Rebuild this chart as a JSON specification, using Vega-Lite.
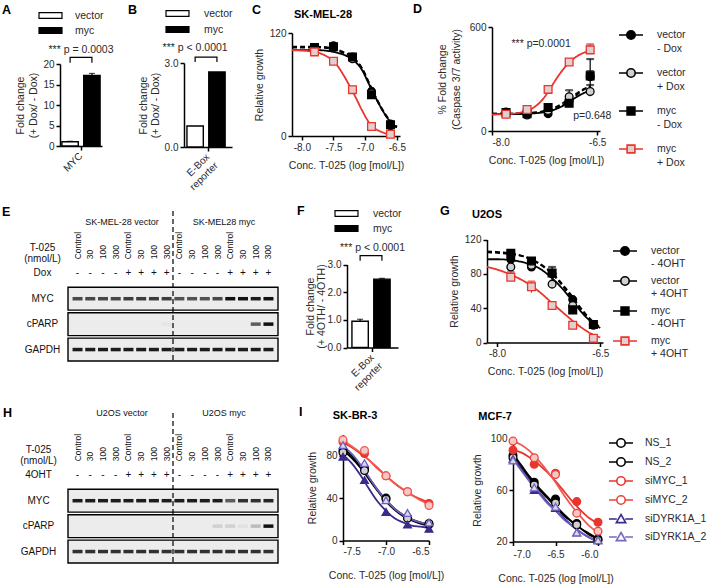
{
"$schema":"https://vega.github.io/schema/vega-lite/v6.json",
"padding":{"left":2,"top":3,"right":0,"bottom":0},
"config":{"font":"Liberation Sans","view":{"stroke":null},
"axis":{"grid":false,"domainColor":"#000","domainWidth":1.5,"tickColor":"#000","tickWidth":1.5,"tickSize":4,"labelFontSize":10,"labelColor":"#2a2a2a","titleFontSize":10.5,"titleFontWeight":"normal","titleColor":"#2a2a2a","labelPadding":2,"titleLineHeight":12},
"legend":{"labelFontSize":10.5,"labelColor":"#2a2a2a","padding":0},
"title":{"fontSize":12.5,"fontWeight":"bold","anchor":"start","frame":"group","offset":2,"color":"#000"}},
"datasets":{
"a_bar":[{"gene":"MYC","group":"vector","value":1.05,"hi":1.15},{"gene":"MYC","group":"myc","value":17.2,"hi":17.7}],
"a_br":[{"gene":"MYC","group":"vector","y":20.3,"k":1},{"gene":"MYC","group":"vector","y":21.6,"k":2},{"gene":"MYC","group":"myc","y":21.6,"k":3},{"gene":"MYC","group":"myc","y":20.3,"k":4}],
"a_p":[{"gene":"MYC","y":23.4,"label":"*** p = 0.0003"}],
"b_bar":[{"gene":"E-Box reporter","group":"vector","value":0.75},{"gene":"E-Box reporter","group":"myc","value":2.68}],
"b_br":[{"gene":"E-Box reporter","group":"vector","y":3.04,"k":1},{"gene":"E-Box reporter","group":"vector","y":3.21,"k":2},{"gene":"E-Box reporter","group":"myc","y":3.21,"k":3},{"gene":"E-Box reporter","group":"myc","y":3.04,"k":4}],
"b_p":[{"gene":"E-Box reporter","group":"vector","y":3.54,"label":"*** p < 0.0001"}],
"f_bar":[{"gene":"E-Box reporter","group":"vector","value":0.95,"hi":1.02},{"gene":"E-Box reporter","group":"myc","value":2.47,"hi":2.5}],
"f_br":[{"gene":"E-Box reporter","group":"vector","y":3.14,"k":1},{"gene":"E-Box reporter","group":"vector","y":3.32,"k":2},{"gene":"E-Box reporter","group":"myc","y":3.32,"k":3},{"gene":"E-Box reporter","group":"myc","y":3.14,"k":4}],
"f_p":[{"gene":"E-Box reporter","y":3.61,"label":"*** p < 0.0001"}],
"c_pts":[
{"series":"vector - Dox","x":-7.8,"y":101},{"series":"vector - Dox","x":-7.5,"y":105},{"series":"vector - Dox","x":-7.2,"y":92},{"series":"vector - Dox","x":-6.9,"y":52},{"series":"vector - Dox","x":-6.6,"y":14},
{"series":"vector + Dox","x":-7.8,"y":100},{"series":"vector + Dox","x":-7.5,"y":103},{"series":"vector + Dox","x":-7.2,"y":90},{"series":"vector + Dox","x":-6.9,"y":50},{"series":"vector + Dox","x":-6.6,"y":12},
{"series":"myc - Dox","x":-7.8,"y":103},{"series":"myc - Dox","x":-7.5,"y":104},{"series":"myc - Dox","x":-7.2,"y":92},{"series":"myc - Dox","x":-6.9,"y":48},{"series":"myc - Dox","x":-6.6,"y":13},
{"series":"myc + Dox","x":-7.8,"y":98},{"series":"myc + Dox","x":-7.5,"y":87},{"series":"myc + Dox","x":-7.2,"y":54},{"series":"myc + Dox","x":-6.9,"y":11},{"series":"myc + Dox","x":-6.6,"y":2}],
"c_crv":[
{"series":"vector - Dox","x":-8.155,"y":103},{"series":"vector - Dox","x":-8.0,"y":103},{"series":"vector - Dox","x":-7.75,"y":103},{"series":"vector - Dox","x":-7.5,"y":101},{"series":"vector - Dox","x":-7.35,"y":97},{"series":"vector - Dox","x":-7.2,"y":91},{"series":"vector - Dox","x":-7.05,"y":79},{"series":"vector - Dox","x":-6.95,"y":64},{"series":"vector - Dox","x":-6.85,"y":48},{"series":"vector - Dox","x":-6.75,"y":34},{"series":"vector - Dox","x":-6.65,"y":22},{"series":"vector - Dox","x":-6.55,"y":14},{"series":"vector - Dox","x":-6.5,"y":11},
{"series":"vector + Dox","x":-8.155,"y":100},{"series":"vector + Dox","x":-8.0,"y":100},{"series":"vector + Dox","x":-7.75,"y":100},{"series":"vector + Dox","x":-7.5,"y":98},{"series":"vector + Dox","x":-7.35,"y":95},{"series":"vector + Dox","x":-7.2,"y":89},{"series":"vector + Dox","x":-7.05,"y":77},{"series":"vector + Dox","x":-6.95,"y":62},{"series":"vector + Dox","x":-6.85,"y":47},{"series":"vector + Dox","x":-6.75,"y":33},{"series":"vector + Dox","x":-6.65,"y":21},{"series":"vector + Dox","x":-6.55,"y":13},{"series":"vector + Dox","x":-6.5,"y":10},
{"series":"myc - Dox","x":-8.155,"y":104},{"series":"myc - Dox","x":-8.0,"y":104},{"series":"myc - Dox","x":-7.75,"y":104},{"series":"myc - Dox","x":-7.5,"y":102},{"series":"myc - Dox","x":-7.35,"y":98},{"series":"myc - Dox","x":-7.2,"y":92},{"series":"myc - Dox","x":-7.05,"y":79},{"series":"myc - Dox","x":-6.95,"y":63},{"series":"myc - Dox","x":-6.85,"y":47},{"series":"myc - Dox","x":-6.75,"y":33},{"series":"myc - Dox","x":-6.65,"y":21},{"series":"myc - Dox","x":-6.55,"y":13},{"series":"myc - Dox","x":-6.5,"y":10},
{"series":"myc + Dox","x":-8.155,"y":100},{"series":"myc + Dox","x":-8.0,"y":99.5},{"series":"myc + Dox","x":-7.85,"y":98.5},{"series":"myc + Dox","x":-7.7,"y":96},{"series":"myc + Dox","x":-7.55,"y":90},{"series":"myc + Dox","x":-7.45,"y":83},{"series":"myc + Dox","x":-7.35,"y":72},{"series":"myc + Dox","x":-7.25,"y":59},{"series":"myc + Dox","x":-7.15,"y":45},{"series":"myc + Dox","x":-7.05,"y":30},{"series":"myc + Dox","x":-6.95,"y":17},{"series":"myc + Dox","x":-6.85,"y":9},{"series":"myc + Dox","x":-6.75,"y":5},{"series":"myc + Dox","x":-6.65,"y":2.5},{"series":"myc + Dox","x":-6.55,"y":1.5}],
"d_pts":[
{"series":"vector - Dox","x":-7.8,"y":110},{"series":"vector - Dox","x":-7.5,"y":98},{"series":"vector - Dox","x":-7.2,"y":100},{"series":"vector - Dox","x":-6.9,"y":175,"lo":160,"hi":190},{"series":"vector - Dox","x":-6.6,"y":313,"lo":260,"hi":415},
{"series":"vector + Dox","x":-7.8,"y":100},{"series":"vector + Dox","x":-7.5,"y":92},{"series":"vector + Dox","x":-7.2,"y":118},{"series":"vector + Dox","x":-6.9,"y":198,"lo":175,"hi":235},{"series":"vector + Dox","x":-6.6,"y":228,"lo":200,"hi":265},
{"series":"myc - Dox","x":-7.8,"y":106},{"series":"myc - Dox","x":-7.5,"y":100},{"series":"myc - Dox","x":-7.2,"y":135},{"series":"myc - Dox","x":-6.9,"y":160},{"series":"myc - Dox","x":-6.6,"y":318,"lo":300,"hi":345},
{"series":"myc + Dox","x":-7.8,"y":97},{"series":"myc + Dox","x":-7.5,"y":124},{"series":"myc + Dox","x":-7.2,"y":240},{"series":"myc + Dox","x":-6.9,"y":398},{"series":"myc + Dox","x":-6.6,"y":468,"lo":445,"hi":500}],
"d_crv":[
{"series":"vector - Dox","x":-8.0,"y":100},{"series":"vector - Dox","x":-7.8,"y":100},{"series":"vector - Dox","x":-7.6,"y":101},{"series":"vector - Dox","x":-7.4,"y":105},{"series":"vector - Dox","x":-7.3,"y":109},{"series":"vector - Dox","x":-7.2,"y":116},{"series":"vector - Dox","x":-7.1,"y":128},{"series":"vector - Dox","x":-7.0,"y":147},{"series":"vector - Dox","x":-6.9,"y":174},{"series":"vector - Dox","x":-6.8,"y":206},{"series":"vector - Dox","x":-6.7,"y":236},{"series":"vector - Dox","x":-6.6,"y":258},
{"series":"vector + Dox","x":-8.0,"y":97},{"series":"vector + Dox","x":-7.8,"y":97},{"series":"vector + Dox","x":-7.6,"y":98},{"series":"vector + Dox","x":-7.4,"y":102},{"series":"vector + Dox","x":-7.3,"y":106},{"series":"vector + Dox","x":-7.2,"y":113},{"series":"vector + Dox","x":-7.1,"y":125},{"series":"vector + Dox","x":-7.0,"y":143},{"series":"vector + Dox","x":-6.9,"y":168},{"series":"vector + Dox","x":-6.8,"y":195},{"series":"vector + Dox","x":-6.7,"y":217},{"series":"vector + Dox","x":-6.6,"y":233},
{"series":"myc - Dox","x":-8.0,"y":100},{"series":"myc - Dox","x":-7.8,"y":100},{"series":"myc - Dox","x":-7.6,"y":102},{"series":"myc - Dox","x":-7.4,"y":107},{"series":"myc - Dox","x":-7.3,"y":112},{"series":"myc - Dox","x":-7.2,"y":121},{"series":"myc - Dox","x":-7.1,"y":136},{"series":"myc - Dox","x":-7.0,"y":158},{"series":"myc - Dox","x":-6.9,"y":186},{"series":"myc - Dox","x":-6.8,"y":215},{"series":"myc - Dox","x":-6.7,"y":240},{"series":"myc - Dox","x":-6.6,"y":258},
{"series":"myc + Dox","x":-8.0,"y":95},{"series":"myc + Dox","x":-7.8,"y":97},{"series":"myc + Dox","x":-7.7,"y":100},{"series":"myc + Dox","x":-7.6,"y":106},{"series":"myc + Dox","x":-7.5,"y":117},{"series":"myc + Dox","x":-7.4,"y":137},{"series":"myc + Dox","x":-7.3,"y":172},{"series":"myc + Dox","x":-7.2,"y":225},{"series":"myc + Dox","x":-7.1,"y":290},{"series":"myc + Dox","x":-7.0,"y":348},{"series":"myc + Dox","x":-6.9,"y":395},{"series":"myc + Dox","x":-6.8,"y":428},{"series":"myc + Dox","x":-6.7,"y":450},{"series":"myc + Dox","x":-6.6,"y":463}],
"d_txt":[{"x":-7.3,"y":502,"t":"*** p=0.0001"},{"x":-6.57,"y":87,"t":"p=0.648"}],
"g_pts":[
{"series":"vector - 4OHT","x":-7.8,"y":97},{"series":"vector - 4OHT","x":-7.5,"y":88},{"series":"vector - 4OHT","x":-7.2,"y":80,"lo":72,"hi":88},{"series":"vector - 4OHT","x":-6.9,"y":50},{"series":"vector - 4OHT","x":-6.6,"y":21},
{"series":"vector + 4OHT","x":-7.8,"y":88},{"series":"vector + 4OHT","x":-7.5,"y":90},{"series":"vector + 4OHT","x":-7.2,"y":68},{"series":"vector + 4OHT","x":-6.9,"y":43},{"series":"vector + 4OHT","x":-6.6,"y":20},
{"series":"myc - 4OHT","x":-7.8,"y":104},{"series":"myc - 4OHT","x":-7.5,"y":95},{"series":"myc - 4OHT","x":-7.2,"y":81},{"series":"myc - 4OHT","x":-6.9,"y":38},{"series":"myc - 4OHT","x":-6.6,"y":21},
{"series":"myc + 4OHT","x":-7.8,"y":76,"lo":72,"hi":82},{"series":"myc + 4OHT","x":-7.5,"y":65,"lo":58,"hi":71},{"series":"myc + 4OHT","x":-7.2,"y":43},{"series":"myc + 4OHT","x":-6.9,"y":20},{"series":"myc + 4OHT","x":-6.6,"y":5}],
"g_crv":[
{"series":"vector - 4OHT","x":-8.146,"y":105},{"series":"vector - 4OHT","x":-8.0,"y":104.5},{"series":"vector - 4OHT","x":-7.8,"y":103},{"series":"vector - 4OHT","x":-7.6,"y":100},{"series":"vector - 4OHT","x":-7.4,"y":93},{"series":"vector - 4OHT","x":-7.2,"y":81},{"series":"vector - 4OHT","x":-7.0,"y":63},{"series":"vector - 4OHT","x":-6.9,"y":53},{"series":"vector - 4OHT","x":-6.8,"y":42},{"series":"vector - 4OHT","x":-6.7,"y":32},{"series":"vector - 4OHT","x":-6.6,"y":24},{"series":"vector - 4OHT","x":-6.5,"y":18},
{"series":"vector + 4OHT","x":-8.146,"y":97},{"series":"vector + 4OHT","x":-8.0,"y":97},{"series":"vector + 4OHT","x":-7.8,"y":96},{"series":"vector + 4OHT","x":-7.6,"y":93},{"series":"vector + 4OHT","x":-7.4,"y":87},{"series":"vector + 4OHT","x":-7.2,"y":75},{"series":"vector + 4OHT","x":-7.0,"y":58},{"series":"vector + 4OHT","x":-6.9,"y":48},{"series":"vector + 4OHT","x":-6.8,"y":38},{"series":"vector + 4OHT","x":-6.7,"y":29},{"series":"vector + 4OHT","x":-6.6,"y":22},{"series":"vector + 4OHT","x":-6.5,"y":17},
{"series":"myc - 4OHT","x":-8.146,"y":106},{"series":"myc - 4OHT","x":-8.0,"y":105.5},{"series":"myc - 4OHT","x":-7.8,"y":104},{"series":"myc - 4OHT","x":-7.6,"y":100},{"series":"myc - 4OHT","x":-7.4,"y":92},{"series":"myc - 4OHT","x":-7.2,"y":80},{"series":"myc - 4OHT","x":-7.0,"y":61},{"series":"myc - 4OHT","x":-6.9,"y":50},{"series":"myc - 4OHT","x":-6.8,"y":40},{"series":"myc - 4OHT","x":-6.7,"y":31},{"series":"myc - 4OHT","x":-6.6,"y":23},{"series":"myc - 4OHT","x":-6.5,"y":17},
{"series":"myc + 4OHT","x":-8.146,"y":88},{"series":"myc + 4OHT","x":-8.0,"y":85},{"series":"myc + 4OHT","x":-7.8,"y":79},{"series":"myc + 4OHT","x":-7.6,"y":71},{"series":"myc + 4OHT","x":-7.4,"y":60},{"series":"myc + 4OHT","x":-7.2,"y":46},{"series":"myc + 4OHT","x":-7.0,"y":32},{"series":"myc + 4OHT","x":-6.8,"y":19},{"series":"myc + 4OHT","x":-6.6,"y":9},{"series":"myc + 4OHT","x":-6.5,"y":6}],
"i1_pts":[
{"series":"NS_1","x":-7.5,"y":85},{"series":"NS_1","x":-7.25,"y":68},{"series":"NS_1","x":-7.0,"y":40},{"series":"NS_1","x":-6.75,"y":22},{"series":"NS_1","x":-6.5,"y":15},
{"series":"NS_2","x":-7.5,"y":83},{"series":"NS_2","x":-7.25,"y":66},{"series":"NS_2","x":-7.0,"y":39},{"series":"NS_2","x":-6.75,"y":21},{"series":"NS_2","x":-6.5,"y":16},
{"series":"siMYC_1","x":-7.5,"y":93},{"series":"siMYC_1","x":-7.25,"y":82},{"series":"siMYC_1","x":-7.0,"y":61},{"series":"siMYC_1","x":-6.75,"y":46},{"series":"siMYC_1","x":-6.5,"y":35},
{"series":"siMYC_2","x":-7.5,"y":95},{"series":"siMYC_2","x":-7.25,"y":85},{"series":"siMYC_2","x":-7.0,"y":61},{"series":"siMYC_2","x":-6.75,"y":46},{"series":"siMYC_2","x":-6.5,"y":33},
{"series":"siDYRK1A_1","x":-7.5,"y":79},{"series":"siDYRK1A_1","x":-7.25,"y":57},{"series":"siDYRK1A_1","x":-7.0,"y":27},{"series":"siDYRK1A_1","x":-6.75,"y":15},{"series":"siDYRK1A_1","x":-6.5,"y":11},
{"series":"siDYRK1A_2","x":-7.5,"y":90},{"series":"siDYRK1A_2","x":-7.25,"y":73},{"series":"siDYRK1A_2","x":-7.0,"y":38},{"series":"siDYRK1A_2","x":-6.75,"y":26},{"series":"siDYRK1A_2","x":-6.5,"y":17}],
"i1_crv":[
{"series":"NS_1","x":-7.5,"y":87},{"series":"NS_1","x":-7.4,"y":80},{"series":"NS_1","x":-7.3,"y":70},{"series":"NS_1","x":-7.2,"y":59},{"series":"NS_1","x":-7.1,"y":48},{"series":"NS_1","x":-7.0,"y":38},{"series":"NS_1","x":-6.9,"y":30},{"series":"NS_1","x":-6.8,"y":24},{"series":"NS_1","x":-6.7,"y":20},{"series":"NS_1","x":-6.6,"y":17},{"series":"NS_1","x":-6.5,"y":15},
{"series":"NS_2","x":-7.5,"y":85},{"series":"NS_2","x":-7.4,"y":78},{"series":"NS_2","x":-7.3,"y":69},{"series":"NS_2","x":-7.2,"y":58},{"series":"NS_2","x":-7.1,"y":47},{"series":"NS_2","x":-7.0,"y":37},{"series":"NS_2","x":-6.9,"y":29},{"series":"NS_2","x":-6.8,"y":23},{"series":"NS_2","x":-6.7,"y":19},{"series":"NS_2","x":-6.6,"y":16},{"series":"NS_2","x":-6.5,"y":14},
{"series":"siMYC_1","x":-7.5,"y":92},{"series":"siMYC_1","x":-7.4,"y":88},{"series":"siMYC_1","x":-7.3,"y":82},{"series":"siMYC_1","x":-7.2,"y":76},{"series":"siMYC_1","x":-7.1,"y":68},{"series":"siMYC_1","x":-7.0,"y":61},{"series":"siMYC_1","x":-6.9,"y":54},{"series":"siMYC_1","x":-6.8,"y":48},{"series":"siMYC_1","x":-6.7,"y":43},{"series":"siMYC_1","x":-6.6,"y":39},{"series":"siMYC_1","x":-6.5,"y":36},
{"series":"siMYC_2","x":-7.5,"y":94},{"series":"siMYC_2","x":-7.4,"y":89},{"series":"siMYC_2","x":-7.3,"y":83},{"series":"siMYC_2","x":-7.2,"y":76},{"series":"siMYC_2","x":-7.1,"y":69},{"series":"siMYC_2","x":-7.0,"y":61},{"series":"siMYC_2","x":-6.9,"y":54},{"series":"siMYC_2","x":-6.8,"y":48},{"series":"siMYC_2","x":-6.7,"y":43},{"series":"siMYC_2","x":-6.6,"y":38},{"series":"siMYC_2","x":-6.5,"y":34},
{"series":"siDYRK1A_1","x":-7.5,"y":81},{"series":"siDYRK1A_1","x":-7.4,"y":73},{"series":"siDYRK1A_1","x":-7.3,"y":62},{"series":"siDYRK1A_1","x":-7.2,"y":49},{"series":"siDYRK1A_1","x":-7.1,"y":37},{"series":"siDYRK1A_1","x":-7.0,"y":28},{"series":"siDYRK1A_1","x":-6.9,"y":21},{"series":"siDYRK1A_1","x":-6.8,"y":17},{"series":"siDYRK1A_1","x":-6.7,"y":14},{"series":"siDYRK1A_1","x":-6.6,"y":13},{"series":"siDYRK1A_1","x":-6.5,"y":12},
{"series":"siDYRK1A_2","x":-7.5,"y":89},{"series":"siDYRK1A_2","x":-7.4,"y":82},{"series":"siDYRK1A_2","x":-7.3,"y":72},{"series":"siDYRK1A_2","x":-7.2,"y":60},{"series":"siDYRK1A_2","x":-7.1,"y":48},{"series":"siDYRK1A_2","x":-7.0,"y":38},{"series":"siDYRK1A_2","x":-6.9,"y":30},{"series":"siDYRK1A_2","x":-6.8,"y":24},{"series":"siDYRK1A_2","x":-6.7,"y":20},{"series":"siDYRK1A_2","x":-6.6,"y":17},{"series":"siDYRK1A_2","x":-6.5,"y":15}],
"i2_pts":[
{"series":"NS_1","x":-7.0,"y":87},{"series":"NS_1","x":-6.75,"y":66},{"series":"NS_1","x":-6.5,"y":53},{"series":"NS_1","x":-6.25,"y":34},{"series":"NS_1","x":-6.0,"y":22},
{"series":"NS_2","x":-7.0,"y":85},{"series":"NS_2","x":-6.75,"y":64},{"series":"NS_2","x":-6.5,"y":50},{"series":"NS_2","x":-6.25,"y":33},{"series":"NS_2","x":-6.0,"y":21},
{"series":"siMYC_1","x":-7.0,"y":91},{"series":"siMYC_1","x":-6.75,"y":80},{"series":"siMYC_1","x":-6.5,"y":73},{"series":"siMYC_1","x":-6.25,"y":51},{"series":"siMYC_1","x":-6.0,"y":35},
{"series":"siMYC_2","x":-7.0,"y":98},{"series":"siMYC_2","x":-6.75,"y":85},{"series":"siMYC_2","x":-6.5,"y":72},{"series":"siMYC_2","x":-6.25,"y":42},{"series":"siMYC_2","x":-6.0,"y":28},
{"series":"siDYRK1A_1","x":-7.0,"y":84},{"series":"siDYRK1A_1","x":-6.75,"y":60},{"series":"siDYRK1A_1","x":-6.5,"y":46},{"series":"siDYRK1A_1","x":-6.25,"y":27},{"series":"siDYRK1A_1","x":-6.0,"y":21},
{"series":"siDYRK1A_2","x":-7.0,"y":83},{"series":"siDYRK1A_2","x":-6.75,"y":62},{"series":"siDYRK1A_2","x":-6.5,"y":47},{"series":"siDYRK1A_2","x":-6.25,"y":27},{"series":"siDYRK1A_2","x":-6.0,"y":21}],
"i2_crv":[
{"series":"NS_1","x":-7.0,"y":88},{"series":"NS_1","x":-6.9,"y":79},{"series":"NS_1","x":-6.8,"y":70},{"series":"NS_1","x":-6.7,"y":62},{"series":"NS_1","x":-6.6,"y":55},{"series":"NS_1","x":-6.5,"y":48},{"series":"NS_1","x":-6.4,"y":41},{"series":"NS_1","x":-6.3,"y":35},{"series":"NS_1","x":-6.2,"y":30},{"series":"NS_1","x":-6.1,"y":26},{"series":"NS_1","x":-6.0,"y":22},
{"series":"NS_2","x":-7.0,"y":86},{"series":"NS_2","x":-6.9,"y":77},{"series":"NS_2","x":-6.8,"y":69},{"series":"NS_2","x":-6.7,"y":61},{"series":"NS_2","x":-6.6,"y":54},{"series":"NS_2","x":-6.5,"y":47},{"series":"NS_2","x":-6.4,"y":40},{"series":"NS_2","x":-6.3,"y":35},{"series":"NS_2","x":-6.2,"y":30},{"series":"NS_2","x":-6.1,"y":25},{"series":"NS_2","x":-6.0,"y":22},
{"series":"siMYC_1","x":-7.0,"y":91},{"series":"siMYC_1","x":-6.9,"y":89},{"series":"siMYC_1","x":-6.8,"y":85},{"series":"siMYC_1","x":-6.7,"y":80},{"series":"siMYC_1","x":-6.6,"y":74},{"series":"siMYC_1","x":-6.5,"y":67},{"series":"siMYC_1","x":-6.4,"y":59},{"series":"siMYC_1","x":-6.3,"y":51},{"series":"siMYC_1","x":-6.2,"y":44},{"series":"siMYC_1","x":-6.1,"y":38},{"series":"siMYC_1","x":-6.0,"y":34},
{"series":"siMYC_2","x":-7.0,"y":98},{"series":"siMYC_2","x":-6.9,"y":95},{"series":"siMYC_2","x":-6.8,"y":90},{"series":"siMYC_2","x":-6.7,"y":83},{"series":"siMYC_2","x":-6.6,"y":75},{"series":"siMYC_2","x":-6.5,"y":66},{"series":"siMYC_2","x":-6.4,"y":56},{"series":"siMYC_2","x":-6.3,"y":47},{"series":"siMYC_2","x":-6.2,"y":39},{"series":"siMYC_2","x":-6.1,"y":32},{"series":"siMYC_2","x":-6.0,"y":27},
{"series":"siDYRK1A_1","x":-7.0,"y":85},{"series":"siDYRK1A_1","x":-6.9,"y":76},{"series":"siDYRK1A_1","x":-6.8,"y":67},{"series":"siDYRK1A_1","x":-6.7,"y":59},{"series":"siDYRK1A_1","x":-6.6,"y":51},{"series":"siDYRK1A_1","x":-6.5,"y":44},{"series":"siDYRK1A_1","x":-6.4,"y":38},{"series":"siDYRK1A_1","x":-6.3,"y":32},{"series":"siDYRK1A_1","x":-6.2,"y":27},{"series":"siDYRK1A_1","x":-6.1,"y":23},{"series":"siDYRK1A_1","x":-6.0,"y":20},
{"series":"siDYRK1A_2","x":-7.0,"y":84},{"series":"siDYRK1A_2","x":-6.9,"y":75},{"series":"siDYRK1A_2","x":-6.8,"y":66},{"series":"siDYRK1A_2","x":-6.7,"y":58},{"series":"siDYRK1A_2","x":-6.6,"y":50},{"series":"siDYRK1A_2","x":-6.5,"y":44},{"series":"siDYRK1A_2","x":-6.4,"y":37},{"series":"siDYRK1A_2","x":-6.3,"y":32},{"series":"siDYRK1A_2","x":-6.2,"y":27},{"series":"siDYRK1A_2","x":-6.1,"y":23},{"series":"siDYRK1A_2","x":-6.0,"y":20}],
"e_lanes":[
{"lane":1,"conc":"Control","sign":"-","myc":0.75,"cparp":0,"gapdh":0.95},{"lane":2,"conc":"30","sign":"-","myc":0.75,"cparp":0,"gapdh":0.95},{"lane":3,"conc":"100","sign":"-","myc":0.75,"cparp":0,"gapdh":0.95},{"lane":4,"conc":"300","sign":"-","myc":0.75,"cparp":0,"gapdh":0.95},
{"lane":5,"conc":"Control","sign":"+","myc":0.8,"cparp":0,"gapdh":0.95},{"lane":6,"conc":"30","sign":"+","myc":0.8,"cparp":0,"gapdh":0.95},{"lane":7,"conc":"100","sign":"+","myc":0.8,"cparp":0,"gapdh":0.95},{"lane":8,"conc":"300","sign":"+","myc":0.8,"cparp":0.03,"gapdh":0.95},
{"lane":9,"conc":"Control","sign":"-","myc":0.7,"cparp":0,"gapdh":0.95},{"lane":10,"conc":"30","sign":"-","myc":0.7,"cparp":0,"gapdh":0.95},{"lane":11,"conc":"100","sign":"-","myc":0.7,"cparp":0,"gapdh":0.95},{"lane":12,"conc":"300","sign":"-","myc":0.75,"cparp":0,"gapdh":0.95},
{"lane":13,"conc":"Control","sign":"+","myc":1,"cparp":0,"gapdh":0.95},{"lane":14,"conc":"30","sign":"+","myc":1,"cparp":0,"gapdh":0.95},{"lane":15,"conc":"100","sign":"+","myc":0.95,"cparp":0.65,"gapdh":0.95},{"lane":16,"conc":"300","sign":"+","myc":1,"cparp":1,"gapdh":0.95}],
"h_lanes":[
{"lane":1,"conc":"Control","sign":"-","myc":0.95,"cparp":0,"gapdh":0.85},{"lane":2,"conc":"30","sign":"-","myc":0.95,"cparp":0,"gapdh":0.85},{"lane":3,"conc":"100","sign":"-","myc":0.95,"cparp":0,"gapdh":0.85},{"lane":4,"conc":"300","sign":"-","myc":0.95,"cparp":0,"gapdh":0.85},
{"lane":5,"conc":"Control","sign":"+","myc":0.95,"cparp":0,"gapdh":0.85},{"lane":6,"conc":"30","sign":"+","myc":0.95,"cparp":0,"gapdh":0.85},{"lane":7,"conc":"100","sign":"+","myc":0.95,"cparp":0,"gapdh":0.85},{"lane":8,"conc":"300","sign":"+","myc":0.95,"cparp":0,"gapdh":0.85},
{"lane":9,"conc":"Control","sign":"-","myc":0.95,"cparp":0,"gapdh":0.85},{"lane":10,"conc":"30","sign":"-","myc":0.95,"cparp":0,"gapdh":0.85},{"lane":11,"conc":"100","sign":"-","myc":0.95,"cparp":0,"gapdh":0.85},{"lane":12,"conc":"300","sign":"-","myc":0.95,"cparp":0.12,"gapdh":0.85},
{"lane":13,"conc":"Control","sign":"+","myc":0.65,"cparp":0.12,"gapdh":0.85},{"lane":14,"conc":"30","sign":"+","myc":0.85,"cparp":0.05,"gapdh":0.85},{"lane":15,"conc":"100","sign":"+","myc":0.85,"cparp":0.22,"gapdh":0.85},{"lane":16,"conc":"300","sign":"+","myc":0.9,"cparp":1,"gapdh":0.85}]
},
"resolve":{"scale":{"fill":"independent","stroke":"independent","shape":"independent","strokeDash":"independent","opacity":"independent"}},
"vconcat":[
{"resolve":{"scale":{"fill":"independent","stroke":"independent","shape":"independent","strokeDash":"independent","opacity":"independent"}},
 "bounds":"flush","spacing":0,
 "hconcat":[
  {"width":116,"height":119,"title":{"text":"A","dx":-66,"dy":9},
   "resolve":{"axis":{"y":"independent"}},
   "layer":[
    {"data":{"name":"a_bar"},"mark":{"type":"bar","stroke":"#000","strokeWidth":1.4},
     "encoding":{
      "x":{"field":"gene","type":"nominal","scale":{"paddingOuter":0.05,"paddingInner":0,"range":[-8,34]},"axis":{"title":null,"labelAngle":-45,"labelAlign":"right","labelBaseline":"middle","labelPadding":4}},
      "xOffset":{"field":"group","type":"nominal","sort":["vector","myc"],"scale":{"paddingInner":0.25,"paddingOuter":0}},
      "y":{"field":"value","type":"quantitative","scale":{"domain":[0,20],"range":[119,37],"nice":false},"axis":{"values":[0,5,10,15,20],"title":"(+ Dox/ - Dox)","titlePadding":4,"offset":8}},
      "fill":{"field":"group","type":"nominal","scale":{"domain":["vector","myc"],"range":["#ffffff","#000000"]},"legend":{"title":null,"orient":"none","legendX":-24,"legendY":-18,"symbolType":"M-2,-0.5H2V0.5H-2Z","symbolSize":132,"symbolStrokeColor":"#000","symbolStrokeWidth":1.2,"labelOffset":18,"rowPadding":3}}}},
    {"data":{"name":"a_bar"},"mark":{"type":"rule","color":"#000","strokeWidth":1.2},
     "encoding":{"x":{"field":"gene","type":"nominal"},"xOffset":{"field":"group","type":"nominal","sort":["vector","myc"]},"y":{"field":"value","type":"quantitative","axis":null},"y2":{"field":"hi"}}},
    {"data":{"name":"a_bar"},"mark":{"type":"tick","orient":"horizontal","color":"#000","size":6,"thickness":1.2},
     "encoding":{"x":{"field":"gene","type":"nominal"},"xOffset":{"field":"group","type":"nominal","sort":["vector","myc"]},"y":{"field":"hi","type":"quantitative","axis":null}}},
    {"data":{"name":"a_br"},"mark":{"type":"line","color":"#000","strokeWidth":1.2},
     "encoding":{"x":{"field":"gene","type":"nominal"},"xOffset":{"field":"group","type":"nominal","sort":["vector","myc"]},"y":{"field":"y","type":"quantitative","axis":null},"order":{"field":"k"}}},
    {"data":{"name":"a_p"},"mark":{"type":"text","fontSize":10.5,"color":"#2a2a2a"},
     "encoding":{"x":{"field":"gene","type":"nominal"},"y":{"field":"y","type":"quantitative","axis":{"orient":"left","title":"Fold change","labels":false,"ticks":false,"tickSize":0,"domain":false,"titlePadding":35,"offset":8}},"text":{"field":"label"}}}
   ]},
  {"width":108,"height":120,"title":{"text":"B","dx":-56,"dy":11},
   "layer":[
    {"data":{"name":"b_bar"},"mark":{"type":"bar","stroke":"#000","strokeWidth":1.4},
     "encoding":{
      "x":{"field":"gene","type":"nominal","scale":{"paddingOuter":0.07,"paddingInner":0,"range":[0,48]},"axis":{"title":null,"labelAngle":-45,"labelAlign":"right","labelBaseline":"middle","labelPadding":4,"labelExpr":"split(datum.label,' ')","labelLineHeight":12}},
      "xOffset":{"field":"group","type":"nominal","sort":["vector","myc"],"scale":{"paddingInner":0.4,"paddingOuter":0}},
      "y":{"field":"value","type":"quantitative","scale":{"domain":[0,3],"range":[120,36],"nice":false},"axis":{"values":[0,1,2,3],"labelExpr":"format(datum.value,'.1f')","title":["Fold change","(+ Dox/ - Dox)"],"titlePadding":4}},
      "fill":{"field":"group","type":"nominal","scale":{"domain":["vector","myc"],"range":["#ffffff","#000000"]},"legend":{"title":null,"orient":"none","legendX":-13,"legendY":-20,"symbolType":"M-2,-0.5H2V0.5H-2Z","symbolSize":132,"symbolStrokeColor":"#000","symbolStrokeWidth":1.2,"labelOffset":20,"rowPadding":4}}}},
    {"data":{"name":"b_br"},"mark":{"type":"line","color":"#000","strokeWidth":1.2},
     "encoding":{"x":{"field":"gene","type":"nominal"},"xOffset":{"field":"group","type":"nominal","sort":["vector","myc"]},"y":{"field":"y","type":"quantitative"},"order":{"field":"k"}}},
    {"data":{"name":"b_p"},"mark":{"type":"text","fontSize":10.5,"color":"#2a2a2a"},
     "encoding":{"x":{"field":"gene","type":"nominal"},"xOffset":{"field":"group","type":"nominal","sort":["vector","myc"]},"y":{"field":"y","type":"quantitative"},"text":{"field":"label"}}}
   ]},
  {"width":200,"height":109,"title":{"text":"C","dx":-40,"dy":9.5},
   "layer":[
    {"data":{"name":"c_crv"},"mark":{"type":"line","strokeWidth":1.8,"interpolate":"monotone"},
     "encoding":{
      "x":{"field":"x","type":"quantitative","scale":{"domain":[-8.155,-6.45],"nice":false,"zero":false,"range":[0,108]},"axis":{"values":[-8,-7.5,-7,-6.5],"labelExpr":"replace(format(datum.value,'.1f'),'−','-')","title":"Conc. T-025 (log [mol/L])","titlePadding":8}},
      "y":{"field":"y","type":"quantitative","scale":{"domain":[0,120],"range":[109,6],"nice":false},"axis":{"values":[0,20,40,60,80,100,120],"title":"Relative growth","titlePadding":5}},
      "stroke":{"field":"series","type":"nominal","scale":{"domain":["vector - Dox","vector + Dox","myc - Dox","myc + Dox"],"range":["#000000","#000000","#000000","#e8352d"]},"legend":null},
      "strokeDash":{"field":"series","type":"nominal","scale":{"domain":["vector - Dox","vector + Dox","myc - Dox","myc + Dox"],"range":[[5,3],[1,0],[5,3],[1,0]]},"legend":null}}},
    {"data":{"name":"c_pts"},"mark":{"type":"point","filled":true,"size":60,"strokeWidth":1.3,"opacity":1},
     "encoding":{"x":{"field":"x","type":"quantitative"},"y":{"field":"y","type":"quantitative"},
      "shape":{"field":"series","type":"nominal","scale":{"domain":["vector - Dox","vector + Dox","myc - Dox","myc + Dox"],"range":["circle","circle","square","square"]},"legend":null},
      "fill":{"field":"series","type":"nominal","scale":{"domain":["vector - Dox","vector + Dox","myc - Dox","myc + Dox"],"range":["#000000","#d0d0d0","#000000","#e3cfcf"]},"legend":null},
      "stroke":{"field":"series","type":"nominal","legend":null}}},
    {"data":{"values":[{"x":-7.666,"y":141,"t":"SK-MEL-28"}]},"mark":{"type":"text","fontWeight":"bold","fontSize":11,"color":"#000"},
     "encoding":{"x":{"field":"x","type":"quantitative"},"y":{"field":"y","type":"quantitative"},"text":{"field":"t"}}}
   ]},
  {"width":108,"height":104,"title":{"text":"D","dx":-79,"dy":-4.5},
   "resolve":{"scale":{"fill":"independent","stroke":"independent","shape":"independent"}},
   "layer":[
    {"data":{"name":"d_pts"},"mark":{"type":"point","filled":true,"size":144,"opacity":0},
     "encoding":{"x":{"field":"x","type":"quantitative","scale":{"domain":[-8,-6.46],"nice":false,"zero":false},"axis":{"values":[-8,-7.5,-7,-6.5],"labelExpr":"replace(format(datum.value,'.1f'),'−','-')","title":"Conc. T-025 (log [mol/L])","titlePadding":8}},
      "y":{"field":"y","type":"quantitative","scale":{"domain":[0,600],"nice":false},"axis":{"values":[0,100,200,300,400,500,600],"title":["% Fold change","(Caspase 3/7 activity)"],"titlePadding":8,"titleLineHeight":14}},
      "shape":{"field":"series","type":"nominal","scale":{"domain":["vector - Dox","vector + Dox","myc - Dox","myc + Dox"],"range":["M-2,0H-0.7M0.7,0H2M-0.7,0A0.7,0.7 0 1,0 0.7,0A0.7,0.7 0 1,0 -0.7,0Z","M-2,0H-0.7M0.7,0H2M-0.7,0A0.7,0.7 0 1,0 0.7,0A0.7,0.7 0 1,0 -0.7,0Z","M-2,0H-0.65M0.65,0H2M-0.65,-0.65H0.65V0.65H-0.65Z","M-2,0H-0.65M0.65,0H2M-0.65,-0.65H0.65V0.65H-0.65Z"]},"legend":{"title":null,"orient":"none","legendX":132,"legendY":1,"symbolSize":144,"symbolStrokeWidth":1.6,"labelOffset":19,"rowPadding":11,"labelFontSize":10.5,"labelBaseline":"top","labelExpr":"[slice(datum.label,0,indexof(datum.label,' ')),slice(datum.label,indexof(datum.label,' ')+1)]","encode":{"labels":{"update":{"lineHeight":{"value":14},"dy":{"value":-5.5}}}}}},
      "fill":{"field":"series","type":"nominal","scale":{"domain":["vector - Dox","vector + Dox","myc - Dox","myc + Dox"],"range":["#000000","#d0d0d0","#000000","#e3cfcf"]},"legend":{"title":null,"orient":"none","legendX":132,"legendY":1,"symbolSize":144,"symbolStrokeWidth":1.6,"labelOffset":19,"rowPadding":11,"labelFontSize":10.5,"labelBaseline":"top","labelExpr":"[slice(datum.label,0,indexof(datum.label,' ')),slice(datum.label,indexof(datum.label,' ')+1)]","encode":{"labels":{"update":{"lineHeight":{"value":14},"dy":{"value":-5.5}}}}}},
      "stroke":{"field":"series","type":"nominal","scale":{"domain":["vector - Dox","vector + Dox","myc - Dox","myc + Dox"],"range":["#000000","#000000","#000000","#e8352d"]},"legend":{"title":null,"orient":"none","legendX":132,"legendY":1,"symbolSize":144,"symbolStrokeWidth":1.6,"labelOffset":19,"rowPadding":11,"labelFontSize":10.5,"labelBaseline":"top","labelExpr":"[slice(datum.label,0,indexof(datum.label,' ')),slice(datum.label,indexof(datum.label,' ')+1)]","encode":{"labels":{"update":{"lineHeight":{"value":14},"dy":{"value":-5.5}}}}}}}},
    {"data":{"name":"d_crv"},"mark":{"type":"line","strokeWidth":1.8,"interpolate":"monotone"},
     "encoding":{"x":{"field":"x","type":"quantitative"},"y":{"field":"y","type":"quantitative"},
      "stroke":{"field":"series","type":"nominal","scale":{"domain":["vector - Dox","vector + Dox","myc - Dox","myc + Dox"],"range":["#000000","#000000","#000000","#e8352d"]},"legend":null},
      "strokeDash":{"field":"series","type":"nominal","scale":{"domain":["vector - Dox","vector + Dox","myc - Dox","myc + Dox"],"range":[[5,3],[1,0],[5,3],[1,0]]},"legend":null}}},
    {"data":{"name":"d_pts"},"transform":[{"filter":"isValid(datum.hi)"}],"mark":{"type":"rule","strokeWidth":1.2},
     "encoding":{"x":{"field":"x","type":"quantitative"},"y":{"field":"lo","type":"quantitative"},"y2":{"field":"hi"},
      "stroke":{"field":"series","type":"nominal","scale":{"domain":["vector - Dox","vector + Dox","myc - Dox","myc + Dox"],"range":["#000000","#000000","#000000","#e8352d"]},"legend":null}}},
    {"data":{"name":"d_pts"},"transform":[{"filter":"isValid(datum.hi)"}],"mark":{"type":"tick","orient":"horizontal","size":7,"thickness":1.2},
     "encoding":{"x":{"field":"x","type":"quantitative"},"y":{"field":"hi","type":"quantitative"},
      "stroke":{"field":"series","type":"nominal","scale":{"domain":["vector - Dox","vector + Dox","myc - Dox","myc + Dox"],"range":["#000000","#000000","#000000","#e8352d"]},"legend":null}}},
    {"data":{"name":"d_pts"},"mark":{"type":"point","filled":true,"size":60,"strokeWidth":1.3,"opacity":1},
     "encoding":{"x":{"field":"x","type":"quantitative"},"y":{"field":"y","type":"quantitative"},
      "shape":{"field":"series","type":"nominal","scale":{"domain":["vector - Dox","vector + Dox","myc - Dox","myc + Dox"],"range":["circle","circle","square","square"]},"legend":null},
      "fill":{"field":"series","type":"nominal","scale":{"domain":["vector - Dox","vector + Dox","myc - Dox","myc + Dox"],"range":["#000000","#d0d0d0","#000000","#e3cfcf"]},"legend":null},
      "stroke":{"field":"series","type":"nominal","scale":{"domain":["vector - Dox","vector + Dox","myc - Dox","myc + Dox"],"range":["#000000","#000000","#000000","#e8352d"]},"legend":null}}},
    {"data":{"name":"d_txt"},"mark":{"type":"text","fontSize":10.5,"color":"#2a2a2a"},
     "encoding":{"x":{"field":"x","type":"quantitative"},"y":{"field":"y","type":"quantitative"},"text":{"field":"t"}}}
   ]}
 ]},
{"resolve":{"scale":{"fill":"independent","stroke":"independent","shape":"independent","strokeDash":"independent","opacity":"independent"}},
 "bounds":"flush","spacing":69,
 "hconcat":[
  {"width":210,"height":150,"title":{"text":"E","dx":-66,"dy":10},
   "layer":[
    {"data":{"values":[{"row":"MYC"},{"row":"cPARP"},{"row":"GAPDH"}]},"mark":{"type":"rect","fill":"#ececec","stroke":"#000","strokeWidth":1.4},
     "encoding":{"y":{"field":"row","type":"nominal","scale":{"domain":["grp","T-025 (nmol/L)","Dox","MYC","cPARP","GAPDH"],"paddingInner":0.1,"paddingOuter":0},"axis":{"title":null,"domain":false,"ticks":false,"tickSize":0,"labelAlign":"center","labelPadding":26,"labelFontSize":10,"labelColor":"#111","labelLineHeight":11,"labelExpr":"datum.label == 'grp' ? '' : (datum.label == 'T-025 (nmol/L)' ? ['T-025','(nmol/L)'] : datum.label)"}}}},
    {"data":{"name":"e_lanes"},"mark":{"type":"tick","orient":"horizontal","size":10,"thickness":3.5,"color":"#111"},
     "encoding":{"x":{"field":"lane","type":"ordinal","scale":{"domain":[1,2,3,4,5,6,7,8,9,10,11,12,13,14,15,16],"paddingInner":0,"paddingOuter":0.25},"axis":null},"y":{"datum":"MYC","type":"nominal"},"opacity":{"field":"myc","type":"quantitative","scale":{"domain":[0,1],"range":[0,1]},"legend":null}}},
    {"data":{"name":"e_lanes"},"mark":{"type":"tick","orient":"horizontal","size":10,"thickness":3.5,"color":"#111"},
     "encoding":{"x":{"field":"lane","type":"ordinal"},"y":{"datum":"cPARP","type":"nominal"},"opacity":{"field":"cparp","type":"quantitative","legend":null}}},
    {"data":{"name":"e_lanes"},"mark":{"type":"tick","orient":"horizontal","size":10,"thickness":3.5,"color":"#111"},
     "encoding":{"x":{"field":"lane","type":"ordinal"},"y":{"datum":"GAPDH","type":"nominal"},"opacity":{"field":"gapdh","type":"quantitative","legend":null}}},
    {"data":{"name":"e_lanes"},"mark":{"type":"text","angle":270,"align":"left","baseline":"middle","fontSize":8.5,"color":"#111"},
     "encoding":{"x":{"field":"lane","type":"ordinal"},"y":{"datum":"T-025 (nmol/L)","type":"nominal","bandPosition":1},"text":{"field":"conc"}}},
    {"data":{"name":"e_lanes"},"mark":{"type":"text","fontSize":10,"color":"#111"},
     "encoding":{"x":{"field":"lane","type":"ordinal"},"y":{"datum":"Dox","type":"nominal"},"text":{"field":"sign"}}},
    {"data":{"values":[{"lane":4,"label":"SK-MEL-28 vector"},{"lane":12,"label":"SK-MEL28 myc"}]},"mark":{"type":"text","fontSize":9,"color":"#111"},
     "encoding":{"x":{"field":"lane","type":"ordinal","bandPosition":1},"y":{"datum":"grp","type":"nominal"},"text":{"field":"label"}}},
    {"data":{"values":[{"lane":8}]},"mark":{"type":"rule","strokeDash":[5,3],"strokeWidth":1.2,"color":"#000"},
     "encoding":{"x":{"field":"lane","type":"ordinal","bandPosition":1}}}
   ]},
  {"width":71,"height":136.5,"title":{"text":"F","dx":-50,"dy":12.5},
   "layer":[
    {"data":{"name":"f_bar"},"mark":{"type":"bar","stroke":"#000","strokeWidth":1.4},
     "encoding":{
      "x":{"field":"gene","type":"nominal","scale":{"paddingOuter":0.12,"paddingInner":0,"range":[0,51]},"axis":{"title":null,"labelAngle":-45,"labelAlign":"right","labelBaseline":"middle","labelPadding":4,"labelExpr":"split(datum.label,' ')","labelLineHeight":12}},
      "xOffset":{"field":"group","type":"nominal","sort":["vector","myc"],"scale":{"paddingInner":0.3,"paddingOuter":0}},
      "y":{"field":"value","type":"quantitative","scale":{"domain":[0,3],"range":[136.5,53.5],"nice":false},"axis":{"values":[0,1,2,3],"labelExpr":"format(datum.value,'.1f')","title":["Fold change","(+ 4OTH/ - 4OTH)"],"titlePadding":1,"titleLineHeight":11}},
      "fill":{"field":"group","type":"nominal","scale":{"domain":["vector","myc"],"range":["#ffffff","#000000"]},"legend":{"title":null,"orient":"none","legendX":-7,"legendY":-4,"symbolType":"M-2,-0.5H2V0.5H-2Z","symbolSize":132,"symbolStrokeColor":"#000","symbolStrokeWidth":1.2,"labelOffset":20,"rowPadding":3}}}},
    {"data":{"name":"f_bar"},"mark":{"type":"rule","color":"#000","strokeWidth":1.2},
     "encoding":{"x":{"field":"gene","type":"nominal"},"xOffset":{"field":"group","type":"nominal","sort":["vector","myc"]},"y":{"field":"value","type":"quantitative"},"y2":{"field":"hi"}}},
    {"data":{"name":"f_bar"},"mark":{"type":"tick","orient":"horizontal","color":"#000","size":6,"thickness":1.2},
     "encoding":{"x":{"field":"gene","type":"nominal"},"xOffset":{"field":"group","type":"nominal","sort":["vector","myc"]},"y":{"field":"hi","type":"quantitative"}}},
    {"data":{"name":"f_br"},"mark":{"type":"line","color":"#000","strokeWidth":1.2},
     "encoding":{"x":{"field":"gene","type":"nominal"},"xOffset":{"field":"group","type":"nominal","sort":["vector","myc"]},"y":{"field":"y","type":"quantitative"},"order":{"field":"k"}}},
    {"data":{"name":"f_p"},"mark":{"type":"text","fontSize":10.5,"color":"#2a2a2a"},
     "encoding":{"x":{"field":"gene","type":"nominal"},"y":{"field":"y","type":"quantitative"},"text":{"field":"label"}}}
   ]},
  {"width":116,"height":131.5,"title":{"text":"G","dx":-47,"dy":11},
   "resolve":{"scale":{"fill":"independent","stroke":"independent","shape":"independent"}},
   "layer":[
    {"data":{"name":"g_pts"},"mark":{"type":"point","filled":true,"size":144,"opacity":0},
     "encoding":{"x":{"field":"x","type":"quantitative","scale":{"domain":[-8.146,-6.46],"nice":false,"zero":false},"axis":{"values":[-8,-7.5,-7,-6.5],"labelExpr":"replace(format(datum.value,'.1f'),'−','-')","title":"Conc. T-025 (log [mol/L])","titlePadding":8}},
      "y":{"field":"y","type":"quantitative","scale":{"domain":[0,120],"range":[131.5,28.5],"nice":false},"axis":{"values":[0,20,40,60,80,100,120],"title":"Relative growth","titlePadding":5}},
      "shape":{"field":"series","type":"nominal","scale":{"domain":["vector - 4OHT","vector + 4OHT","myc - 4OHT","myc + 4OHT"],"range":["M-2,0H-0.7M0.7,0H2M-0.7,0A0.7,0.7 0 1,0 0.7,0A0.7,0.7 0 1,0 -0.7,0Z","M-2,0H-0.7M0.7,0H2M-0.7,0A0.7,0.7 0 1,0 0.7,0A0.7,0.7 0 1,0 -0.7,0Z","M-2,0H-0.65M0.65,0H2M-0.65,-0.65H0.65V0.65H-0.65Z","M-2,0H-0.65M0.65,0H2M-0.65,-0.65H0.65V0.65H-0.65Z"]},"legend":{"title":null,"orient":"none","legendX":131,"legendY":33,"symbolSize":144,"symbolStrokeWidth":1.6,"labelOffset":19,"rowPadding":4,"labelFontSize":10.5,"labelBaseline":"top","labelExpr":"[slice(datum.label,0,indexof(datum.label,' ')),slice(datum.label,indexof(datum.label,' ')+1)]","encode":{"labels":{"update":{"lineHeight":{"value":13},"dy":{"value":-5.5}}}}}},
      "fill":{"field":"series","type":"nominal","scale":{"domain":["vector - 4OHT","vector + 4OHT","myc - 4OHT","myc + 4OHT"],"range":["#000000","#d0d0d0","#000000","#e3cfcf"]},"legend":{"title":null,"orient":"none","legendX":131,"legendY":33,"symbolSize":144,"symbolStrokeWidth":1.6,"labelOffset":19,"rowPadding":4,"labelFontSize":10.5,"labelBaseline":"top","labelExpr":"[slice(datum.label,0,indexof(datum.label,' ')),slice(datum.label,indexof(datum.label,' ')+1)]","encode":{"labels":{"update":{"lineHeight":{"value":13},"dy":{"value":-5.5}}}}}},
      "stroke":{"field":"series","type":"nominal","scale":{"domain":["vector - 4OHT","vector + 4OHT","myc - 4OHT","myc + 4OHT"],"range":["#000000","#000000","#000000","#e8352d"]},"legend":{"title":null,"orient":"none","legendX":131,"legendY":33,"symbolSize":144,"symbolStrokeWidth":1.6,"labelOffset":19,"rowPadding":4,"labelFontSize":10.5,"labelBaseline":"top","labelExpr":"[slice(datum.label,0,indexof(datum.label,' ')),slice(datum.label,indexof(datum.label,' ')+1)]","encode":{"labels":{"update":{"lineHeight":{"value":13},"dy":{"value":-5.5}}}}}}}},
    {"data":{"name":"g_crv"},"mark":{"type":"line","strokeWidth":1.8,"interpolate":"monotone"},
     "encoding":{"x":{"field":"x","type":"quantitative"},"y":{"field":"y","type":"quantitative"},
      "stroke":{"field":"series","type":"nominal","scale":{"domain":["vector - 4OHT","vector + 4OHT","myc - 4OHT","myc + 4OHT"],"range":["#000000","#000000","#000000","#e8352d"]},"legend":null},
      "strokeDash":{"field":"series","type":"nominal","scale":{"domain":["vector - 4OHT","vector + 4OHT","myc - 4OHT","myc + 4OHT"],"range":[[5,3],[1,0],[5,3],[1,0]]},"legend":null}}},
    {"data":{"name":"g_pts"},"transform":[{"filter":"isValid(datum.hi)"}],"mark":{"type":"rule","strokeWidth":1.2},
     "encoding":{"x":{"field":"x","type":"quantitative"},"y":{"field":"lo","type":"quantitative"},"y2":{"field":"hi"},
      "stroke":{"field":"series","type":"nominal","scale":{"domain":["vector - 4OHT","vector + 4OHT","myc - 4OHT","myc + 4OHT"],"range":["#000000","#000000","#000000","#e8352d"]},"legend":null}}},
    {"data":{"name":"g_pts"},"transform":[{"filter":"isValid(datum.hi)"}],"mark":{"type":"tick","orient":"horizontal","size":7,"thickness":1.2},
     "encoding":{"x":{"field":"x","type":"quantitative"},"y":{"field":"hi","type":"quantitative"},
      "stroke":{"field":"series","type":"nominal","scale":{"domain":["vector - 4OHT","vector + 4OHT","myc - 4OHT","myc + 4OHT"],"range":["#000000","#000000","#000000","#e8352d"]},"legend":null}}},
    {"data":{"name":"g_pts"},"mark":{"type":"point","filled":true,"size":60,"strokeWidth":1.3,"opacity":1},
     "encoding":{"x":{"field":"x","type":"quantitative"},"y":{"field":"y","type":"quantitative"},
      "shape":{"field":"series","type":"nominal","scale":{"domain":["vector - 4OHT","vector + 4OHT","myc - 4OHT","myc + 4OHT"],"range":["circle","circle","square","square"]},"legend":null},
      "fill":{"field":"series","type":"nominal","scale":{"domain":["vector - 4OHT","vector + 4OHT","myc - 4OHT","myc + 4OHT"],"range":["#000000","#d0d0d0","#000000","#e3cfcf"]},"legend":null},
      "stroke":{"field":"series","type":"nominal","scale":{"domain":["vector - 4OHT","vector + 4OHT","myc - 4OHT","myc + 4OHT"],"range":["#000000","#000000","#000000","#e8352d"]},"legend":null}}},
    {"data":{"values":[{"x":-8.146,"y":149,"t":"U2OS"}]},"mark":{"type":"text","fontWeight":"bold","fontSize":11,"color":"#000"},
     "encoding":{"x":{"field":"x","type":"quantitative"},"y":{"field":"y","type":"quantitative"},"text":{"field":"t"}}}
   ]}
 ]},
{"resolve":{"scale":{"fill":"independent","stroke":"independent","shape":"independent","strokeDash":"independent","opacity":"independent"}},
 "bounds":"flush","spacing":65,
 "hconcat":[
  {"width":210,"height":150,"title":{"text":"H","dx":-65,"dy":12},
   "layer":[
    {"data":{"values":[{"row":"MYC"},{"row":"cPARP"},{"row":"GAPDH"}]},"mark":{"type":"rect","fill":"#ececec","stroke":"#000","strokeWidth":1.4},
     "encoding":{"y":{"field":"row","type":"nominal","scale":{"domain":["grp","T-025 (nmol/L)","4OHT","MYC","cPARP","GAPDH"],"paddingInner":0.1,"paddingOuter":0},"axis":{"title":null,"domain":false,"ticks":false,"tickSize":0,"labelAlign":"center","labelPadding":30,"labelFontSize":10,"labelColor":"#111","labelLineHeight":11,"labelExpr":"datum.label == 'grp' ? '' : (datum.label == 'T-025 (nmol/L)' ? ['T-025','(nmol/L)'] : datum.label)"}}}},
    {"data":{"name":"h_lanes"},"mark":{"type":"tick","orient":"horizontal","size":10,"thickness":3.5,"color":"#111"},
     "encoding":{"x":{"field":"lane","type":"ordinal","scale":{"domain":[1,2,3,4,5,6,7,8,9,10,11,12,13,14,15,16],"paddingInner":0,"paddingOuter":0.25},"axis":null},"y":{"datum":"MYC","type":"nominal"},"opacity":{"field":"myc","type":"quantitative","scale":{"domain":[0,1],"range":[0,1]},"legend":null}}},
    {"data":{"name":"h_lanes"},"mark":{"type":"tick","orient":"horizontal","size":10,"thickness":3.5,"color":"#111"},
     "encoding":{"x":{"field":"lane","type":"ordinal"},"y":{"datum":"cPARP","type":"nominal"},"opacity":{"field":"cparp","type":"quantitative","legend":null}}},
    {"data":{"name":"h_lanes"},"mark":{"type":"tick","orient":"horizontal","size":10,"thickness":3.5,"color":"#111"},
     "encoding":{"x":{"field":"lane","type":"ordinal"},"y":{"datum":"GAPDH","type":"nominal"},"opacity":{"field":"gapdh","type":"quantitative","legend":null}}},
    {"data":{"name":"h_lanes"},"mark":{"type":"text","angle":270,"align":"left","baseline":"middle","fontSize":8.5,"color":"#111"},
     "encoding":{"x":{"field":"lane","type":"ordinal"},"y":{"datum":"T-025 (nmol/L)","type":"nominal","bandPosition":1},"text":{"field":"conc"}}},
    {"data":{"name":"h_lanes"},"mark":{"type":"text","fontSize":10,"color":"#111"},
     "encoding":{"x":{"field":"lane","type":"ordinal"},"y":{"datum":"4OHT","type":"nominal"},"text":{"field":"sign"}}},
    {"data":{"values":[{"lane":4,"label":"U2OS vector"},{"lane":12,"label":"U2OS myc"}]},"mark":{"type":"text","fontSize":9,"color":"#111"},
     "encoding":{"x":{"field":"lane","type":"ordinal","bandPosition":1},"y":{"datum":"grp","type":"nominal","bandPosition":0},"text":{"field":"label"}}},
    {"data":{"values":[{"lane":8}]},"mark":{"type":"rule","strokeDash":[5,3],"strokeWidth":1.2,"color":"#000"},
     "encoding":{"x":{"field":"lane","type":"ordinal","bandPosition":1}}}
   ]},
  {"width":105,"height":127.5,"title":{"text":"I","dx":-44,"dy":10.5},
   "layer":[
    {"data":{"name":"i1_crv"},"mark":{"type":"line","strokeWidth":1.8,"interpolate":"monotone"},
     "encoding":{
      "x":{"field":"x","type":"quantitative","scale":{"domain":[-7.5,-6.5],"nice":false,"zero":false,"range":[0,86]},"axis":{"values":[-7.5,-7,-6.5],"labelExpr":"replace(format(datum.value,'.1f'),'−','-')","title":"Conc. T-025 (log [mol/L])","titlePadding":14}},
      "y":{"field":"y","type":"quantitative","scale":{"domain":[0,100],"range":[127.5,21.5],"nice":false},"axis":{"values":[0,20,40,60,80,100],"title":"Relative growth","titlePadding":8}},
      "stroke":{"field":"series","type":"nominal","scale":{"domain":["NS_1","NS_2","siMYC_1","siMYC_2","siDYRK1A_1","siDYRK1A_2"],"range":["#000000","#000000","#e8352d","#ee5a52","#3a2a8c","#6a5fb8"]},"legend":null}}},
    {"data":{"name":"i1_pts"},"mark":{"type":"point","filled":true,"size":60,"strokeWidth":1.3,"opacity":1},
     "encoding":{"x":{"field":"x","type":"quantitative"},"y":{"field":"y","type":"quantitative"},
      "shape":{"field":"series","type":"nominal","scale":{"domain":["NS_1","NS_2","siMYC_1","siMYC_2","siDYRK1A_1","siDYRK1A_2"],"range":["circle","circle","circle","circle","triangle-up","triangle-up"]},"legend":null},
      "fill":{"field":"series","type":"nominal","scale":{"domain":["NS_1","NS_2","siMYC_1","siMYC_2","siDYRK1A_1","siDYRK1A_2"],"range":["#000000","#d0d0d0","#e8352d","#f6c8c5","#3a2a8c","#dcd8f2"]},"legend":null},
      "stroke":{"field":"series","type":"nominal","legend":null}}},
    {"data":{"values":[{"x":-7.36,"y":117,"t":"SK-BR-3"}]},"mark":{"type":"text","fontWeight":"bold","fontSize":11,"color":"#000"},
     "encoding":{"x":{"field":"x","type":"quantitative"},"y":{"field":"y","type":"quantitative"},"text":{"field":"t"}}}
   ]},
  {"width":85,"height":128.5,
   "resolve":{"scale":{"fill":"independent","stroke":"independent","shape":"independent"}},
   "layer":[
    {"data":{"name":"i2_pts"},"mark":{"type":"point","filled":true,"size":144,"opacity":0},
     "encoding":{"x":{"field":"x","type":"quantitative","scale":{"domain":[-7,-6],"nice":false,"zero":false},"axis":{"values":[-7,-6.5,-6],"labelExpr":"replace(format(datum.value,'.1f'),'−','-')","title":"Conc. T-025 (log [mol/L])","titlePadding":14,"labelPadding":4}},
      "y":{"field":"y","type":"quantitative","scale":{"domain":[20,100],"range":[128.5,25.5],"nice":false,"zero":false},"axis":{"values":[20,40,60,80,100],"title":"Relative growth","titlePadding":8}},
      "shape":{"field":"series","type":"nominal","scale":{"domain":["NS_1","NS_2","siMYC_1","siMYC_2","siDYRK1A_1","siDYRK1A_2"],"range":["M-2,0H-0.7M0.7,0H2M-0.7,0A0.7,0.7 0 1,0 0.7,0A0.7,0.7 0 1,0 -0.7,0Z","M-2,0H-0.7M0.7,0H2M-0.7,0A0.7,0.7 0 1,0 0.7,0A0.7,0.7 0 1,0 -0.7,0Z","M-2,0H-0.7M0.7,0H2M-0.7,0A0.7,0.7 0 1,0 0.7,0A0.7,0.7 0 1,0 -0.7,0Z","M-2,0H-0.7M0.7,0H2M-0.7,0A0.7,0.7 0 1,0 0.7,0A0.7,0.7 0 1,0 -0.7,0Z","M-2,0H-0.7M0.7,0H2M0,-0.75L0.78,0.6H-0.78Z","M-2,0H-0.7M0.7,0H2M0,-0.75L0.78,0.6H-0.78Z"]},"legend":{"title":null,"orient":"none","legendX":101,"legendY":23,"symbolSize":144,"symbolStrokeWidth":1.6,"labelOffset":17,"rowPadding":3,"labelFontSize":10.5}},
      "fill":{"field":"series","type":"nominal","scale":{"domain":["NS_1","NS_2","siMYC_1","siMYC_2","siDYRK1A_1","siDYRK1A_2"],"range":["#000000","#d0d0d0","#e8352d","#f6c8c5","#3a2a8c","#dcd8f2"]},"legend":{"title":null,"orient":"none","legendX":101,"legendY":23,"symbolSize":144,"symbolStrokeWidth":1.6,"labelOffset":17,"rowPadding":3,"labelFontSize":10.5}},
      "stroke":{"field":"series","type":"nominal","scale":{"domain":["NS_1","NS_2","siMYC_1","siMYC_2","siDYRK1A_1","siDYRK1A_2"],"range":["#000000","#000000","#e8352d","#e8453d","#3a2a8c","#7469c0"]},"legend":{"title":null,"orient":"none","legendX":101,"legendY":23,"symbolSize":144,"symbolStrokeWidth":1.6,"labelOffset":17,"rowPadding":3,"labelFontSize":10.5}}}},
    {"data":{"name":"i2_crv"},"mark":{"type":"line","strokeWidth":1.8,"interpolate":"monotone"},
     "encoding":{"x":{"field":"x","type":"quantitative"},"y":{"field":"y","type":"quantitative"},
      "stroke":{"field":"series","type":"nominal","scale":{"domain":["NS_1","NS_2","siMYC_1","siMYC_2","siDYRK1A_1","siDYRK1A_2"],"range":["#000000","#000000","#e8352d","#ee5a52","#3a2a8c","#6a5fb8"]},"legend":null}}},
    {"data":{"name":"i2_pts"},"mark":{"type":"point","filled":true,"size":60,"strokeWidth":1.3,"opacity":1},
     "encoding":{"x":{"field":"x","type":"quantitative"},"y":{"field":"y","type":"quantitative"},
      "shape":{"field":"series","type":"nominal","scale":{"domain":["NS_1","NS_2","siMYC_1","siMYC_2","siDYRK1A_1","siDYRK1A_2"],"range":["circle","circle","circle","circle","triangle-up","triangle-up"]},"legend":null},
      "fill":{"field":"series","type":"nominal","scale":{"domain":["NS_1","NS_2","siMYC_1","siMYC_2","siDYRK1A_1","siDYRK1A_2"],"range":["#000000","#d0d0d0","#e8352d","#f6c8c5","#3a2a8c","#dcd8f2"]},"legend":null},
      "stroke":{"field":"series","type":"nominal","scale":{"domain":["NS_1","NS_2","siMYC_1","siMYC_2","siDYRK1A_1","siDYRK1A_2"],"range":["#000000","#000000","#e8352d","#e8453d","#3a2a8c","#7469c0"]},"legend":null}}},
    {"data":{"values":[{"x":-7.21,"y":117,"t":"MCF-7"}]},"mark":{"type":"text","fontWeight":"bold","fontSize":11,"color":"#000"},
     "encoding":{"x":{"field":"x","type":"quantitative"},"y":{"field":"y","type":"quantitative"},"text":{"field":"t"}}}
   ]}
 ]}
],
"spacing":13
}
